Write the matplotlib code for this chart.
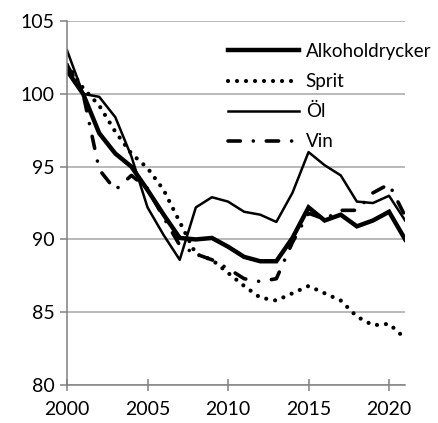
# Försäljning av alkoholdrycker, index

import numpy as np
import matplotlib.pyplot as plt
from matplotlib import rcParams

rcParams['font.family'] = ['Lato', 'DejaVu Sans']

# data
years = np.arange(2000, 2022)
alkohol = [101.6, 100.0, 97.3, 95.9, 95.0, 93.4, 91.7, 90.1, 90.0, 90.1, 89.5,
           88.8, 88.5, 88.5, 90.1, 92.2, 91.3, 91.7, 90.9, 91.3, 91.9, 90.0]
sprit = [102.0, 100.4, 99.2, 97.4, 95.9, 94.9, 93.4, 91.2, 89.0, 88.6, 87.7,
         86.8, 86.0, 85.8, 86.3, 86.8, 86.3, 85.8, 84.7, 84.1, 84.2, 83.2]
ol = [103.0, 100.0, 99.8, 98.4, 95.7, 92.2, 90.3, 88.6, 92.2, 92.9, 92.6,
      91.9, 91.7, 91.2, 93.2, 96.0, 95.1, 94.4, 92.6, 92.5, 93.0, 91.3]
vin = [102.0, 100.0, 94.8, 93.4, 94.4, 93.5, 91.5, 89.6, 89.0, 88.6, 88.0,
       87.3, 87.1, 87.3, 89.8, 91.8, 91.4, 92.0, 92.0, 93.2, 93.8, 91.6]

fig = plt.figure(figsize=(4.38, 4.23), dpi=100)
ax = fig.add_axes([0.153, 0.09, 0.772, 0.86])

ax.plot(years, alkohol, color='black', linewidth=3.2, label='Alkoholdrycker',
        solid_joinstyle='miter')
ax.plot(years, sprit, color='black', linewidth=3.0, linestyle=(0, (0.01, 2.15)),
        dash_capstyle='round', label='Sprit')
ax.plot(years, ol, color='black', linewidth=1.8, label='Öl')
ax.plot(years, vin, color='black', linewidth=2.6, linestyle=(0, (3.4, 3.6, 0.01, 3.6)),
        dash_capstyle='round', label='Vin')

# axlar och rutnät
ax.set_xlim(2000, 2021)
ax.set_ylim(80, 105)
ax.set_xticks([2000, 2005, 2010, 2015, 2020])
ax.set_yticks([80, 85, 90, 95, 100, 105])
ax.grid(True, axis='y', color='#a6a6a6', linewidth=1.1)
ax.set_axisbelow(True)
for s in ['top', 'right']:
    ax.spines[s].set_visible(False)
for s in ['left', 'bottom']:
    ax.spines[s].set_color('#808080')
    ax.spines[s].set_linewidth(1.1)
ax.tick_params(axis='x', direction='inout', length=9, color='#808080', width=1.1,
               labelsize=14, pad=7)
ax.tick_params(axis='y', direction='out', length=5, color='#808080', width=1.1,
               labelsize=14, pad=4)

ax.legend(loc='upper left', bbox_to_anchor=(0.476, 0.94), frameon=False, fontsize=13.5,
          handlelength=3.8, handletextpad=0.35, labelspacing=0.7,
          borderpad=0, borderaxespad=0)

plt.savefig('out.png', dpi=100)
